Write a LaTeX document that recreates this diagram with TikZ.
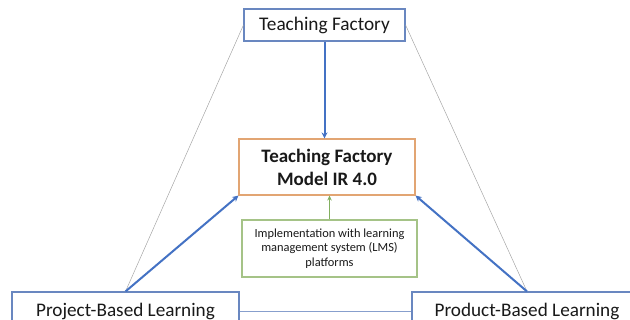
\documentclass[tikz,border=0pt]{standalone}
\usepackage{fontspec}
\setmainfont{Carlito}
\usetikzlibrary{arrows.meta}
\definecolor{boxblue}{RGB}{105,135,192}
\definecolor{arrowblue}{RGB}{68,114,196}
\definecolor{modelorange}{RGB}{226,165,115}
\definecolor{lmsgreen}{RGB}{165,195,135}
\definecolor{lmsarrowgreen}{RGB}{130,175,95}
\definecolor{thingray}{RGB}{160,160,160}
\definecolor{ink}{RGB}{25,25,25}
\tikzset{
  bluebox/.style={draw=boxblue, line width=1.1pt, text=ink, inner sep=0pt, align=center},
  modelbox/.style={draw=modelorange, line width=1.1pt, text=ink, inner sep=0pt, align=center},
  lmsbox/.style={draw=lmsgreen, line width=1.1pt, text=ink, inner sep=0pt, align=center},
  mainarrow/.style={draw=arrowblue, line width=2pt, -{Stealth[length=6pt,width=6pt]}},
  lmsarrow/.style={draw=lmsarrowgreen, line width=0.9pt, -{Stealth[length=5pt,width=4.5pt]}},
  thinlink/.style={draw=thingray, line width=0.45pt},
  flatlink/.style={draw=boxblue!80, line width=0.8pt}
}
\begin{document}
\begin{tikzpicture}[x=1pt,y=-1pt]
  \useasboundingbox (0,0) rectangle (630,320);
  \clip (0,0) rectangle (630,320);
  \fill[white] (0,0) rectangle (630,320);

  % boxes
  \node[bluebox, minimum width=161pt, minimum height=32pt, font=\fontsize{19.3}{22}\selectfont]
    (tf) at (324.5,25) {Teaching Factory};
  \node[modelbox, minimum width=176pt, minimum height=56pt, font=\bfseries\fontsize{19}{23}\selectfont]
    (model) at (327,167) {Teaching Factory\\Model IR 4.0};
  \node[lmsbox, minimum width=175pt, minimum height=57pt, font=\fontsize{12.4}{14.5}\selectfont]
    (lms) at (329.5,248.5) {Implementation with learning\\management system (LMS)\\platforms};
  \node[bluebox, minimum width=227pt, minimum height=38pt, font=\fontsize{19.2}{24}\selectfont]
    (pjbl) at (125.5,311) {Project-Based Learning};
  \node[bluebox, minimum width=230pt, minimum height=38pt, font=\fontsize{19.2}{24}\selectfont]
    (pdbl) at (527,311) {Product-Based Learning};

  % thin side links
  \draw[thinlink] (tf.west) -- (pjbl.north);
  \draw[thinlink] (tf.east) -- (pdbl.north);
  \draw[flatlink] (pjbl.east) -- (pdbl.west);

  % arrows into the model
  \draw[mainarrow] (tf.south) -- (tf.south |- model.north);
  \draw[mainarrow] (pjbl.north) -- (model.south west);
  \draw[mainarrow] (pdbl.north) -- (model.south east);
  \draw[lmsarrow] (lms.north) -- (lms.north |- model.south);
\end{tikzpicture}
\end{document}
